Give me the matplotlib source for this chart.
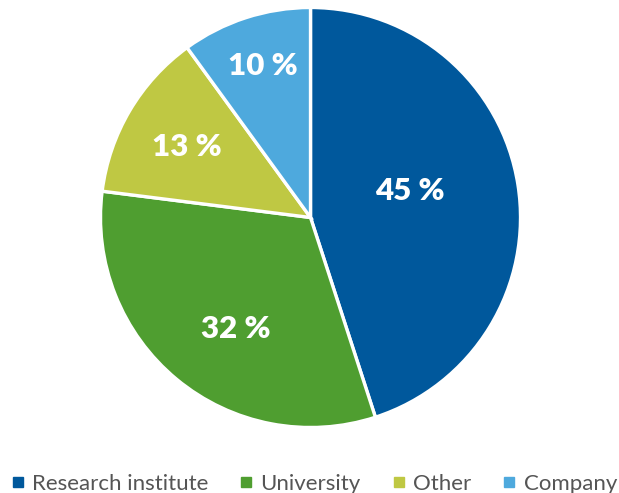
import numpy as np
import matplotlib
matplotlib.use("Agg")
import matplotlib.pyplot as plt
from matplotlib.lines import Line2D

plt.rcParams['font.family'] = ['Lato', 'DejaVu Sans']

categories = ["Research institute", "University", "Other", "Company"]
shares = [45, 32, 13, 10]
colors = ["#00589c", "#4f9e30", "#bfc843", "#4ea9dd"]
# position des étiquettes : distance au centre et décalage d'angle (degrés)
label_dist = [0.49, 0.64, 0.68, 0.755]
label_shift = [5.7, 5.9, 0.8, -0.5]

fig = plt.figure(figsize=(6.19, 4.93), dpi=100)
ax = fig.add_axes([0.0, 0.0, 1.0, 1.0])

# centre en pixels ~ (310, 217), rayon ~210
wedges, _ = ax.pie(shares, colors=colors, startangle=90, counterclock=False,
                   radius=1.0, wedgeprops=dict(edgecolor='white', linewidth=2.4))

ax.set_xlim(-1.4786, 1.4690)
ax.set_ylim(-1.3119, 1.0357)
ax.set_aspect('equal')
ax.axis('off')

for w, s, d, sh in zip(wedges, shares, label_dist, label_shift):
    ang = np.deg2rad((w.theta1 + w.theta2) / 2 + sh)
    ax.text(d * np.cos(ang), d * np.sin(ang), f"{s} %", ha='center', va='center',
            color='white', fontsize=22.5, fontweight='heavy')

handles = [Line2D([], [], marker='s', linestyle='none', markersize=7,
                  markerfacecolor=c, markeredgecolor=c) for c in colors]
fig.legend(handles, categories, loc='lower center', ncol=4, frameon=False,
           bbox_to_anchor=(0.508, -0.042), fontsize=16, labelcolor='#555555',
           handletextpad=0.4, columnspacing=1.45, handlelength=0.5)

fig.savefig("out.png", dpi=100)
